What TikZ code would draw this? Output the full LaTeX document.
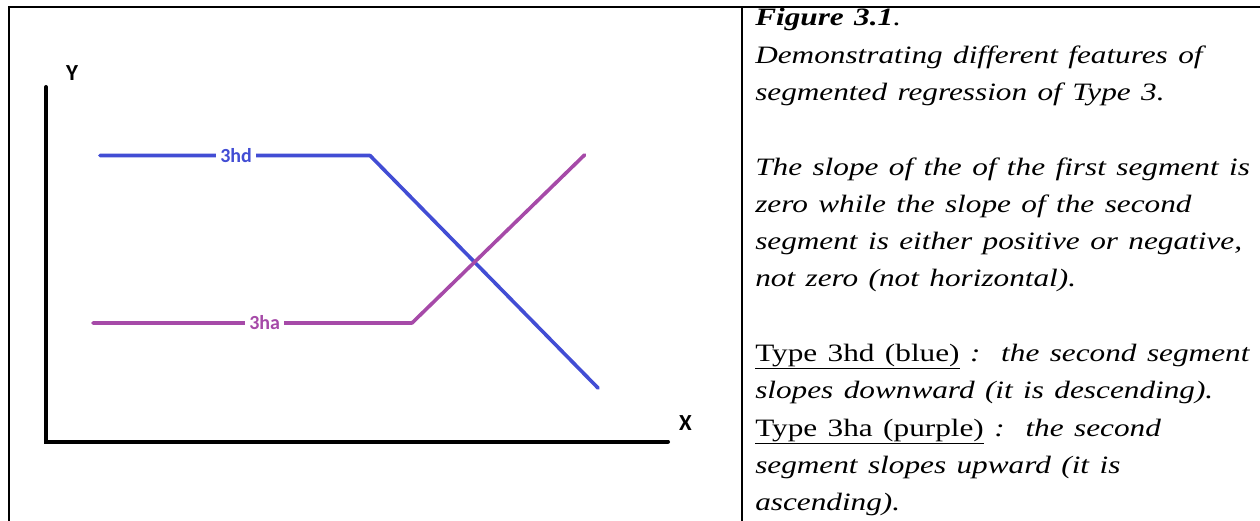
\documentclass[tikz,border=0pt]{standalone}
\usepackage{fontspec}
\setmainfont{Liberation Serif}
\newfontfamily\chartfont{Carlito}
\usepackage{tikz}
\usetikzlibrary{positioning}
\definecolor{SegBlue}{RGB}{66,77,212}
\definecolor{SegPurple}{RGB}{166,74,168}

\begin{document}
\begin{tikzpicture}[
  x=1pt,y=-1pt,
  frame/.style={line width=2pt,black},
  axis/.style={line width=4pt,black,line cap=round},
  seg/.style={line width=3.6pt,line cap=round,line join=round},
  seglabel/.style={fill=white,inner xsep=4pt,inner ysep=1pt,font=\chartfont\bfseries\fontsize{20}{21}\selectfont},
  axislabel/.style={inner sep=0pt,font=\chartfont\bfseries\fontsize{23}{24}\selectfont},
  caption/.style={inner sep=0pt,anchor=north west,align=left,text width=440pt,font=\itshape\fontsize{25}{37.3}\selectfont}
]
\useasboundingbox (0,0) rectangle (1260,521);
% outer frame, cut by the page edge
\draw[frame] (8.5,521) -- (8.5,7) -- (1260,7);
\draw[frame] (741.5,7) -- (741.5,521);

% axes
\coordinate (yTop) at (46,87);
\coordinate (origin) at (46,441.5);
\coordinate (xEnd) at (668,441.5);
\draw[axis] (yTop) -- (origin) -- (xEnd);
\node[axislabel] (ylab) at (72,73.5) {Y};
\node[axislabel] (xlab) at (685.5,423) {X};

% type 3hd
\coordinate (hdStart) at (100,155.5);
\coordinate (hdKnee) at (370,155.5);
\coordinate (hdEnd) at (598,388);
\draw[seg,SegBlue] (hdStart) -- (hdKnee) -- (hdEnd);
\path (hdStart) -- node[seglabel,text=SegBlue,pos=0.504] (hdlab) {3hd} (hdKnee);

% type 3ha
\coordinate (haStart) at (93,323);
\coordinate (haKnee) at (412,323);
\coordinate (haEnd) at (584.5,155);
\draw[seg,SegPurple] (haStart) -- (haKnee) -- (haEnd);
\path (haStart) -- node[seglabel,text=SegPurple,pos=0.538] (halab) {3ha} (haKnee);

% caption (text a little wider than tall, as in the figure)
\begin{scope}[shift={(755,-0.5)},xscale=1.25]
\node[caption,transform shape] (cap) at (0,0) {\hyphenpenalty=10000\strut\textbf{Figure 3.1}.\\
Demonstrating different features of\\
segmented regression of Type 3.\\[37.3pt]
The slope of the of the first segment is\\
zero while the slope of the second\\
segment is either positive or negative,\\
not zero (not horizontal).\\[37.3pt]
\upshape\underline{Type 3hd (blue)}\itshape\ :\ \ the second segment\\
slopes downward (it is descending).\\
\upshape\underline{Type 3ha (purple)}\itshape\ :\ \ the second\\
segment slopes upward (it is\\
ascending).};
\end{scope}
\end{tikzpicture}
\end{document}
